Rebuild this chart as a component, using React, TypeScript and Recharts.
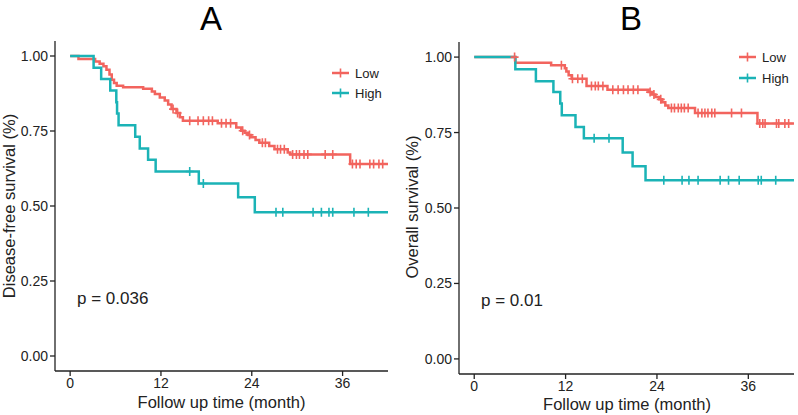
import React from "react";
import { ComposedChart, Line, Scatter, XAxis, YAxis } from "recharts";

const RED = "#F2645E";
const TEAL = "#1BB3B6";
const INK = "#222222";
const FONT = '"Liberation Sans", Arial, Helvetica, sans-serif';

const monthTicks = [0, 12, 24, 36];
const survTicks = [0, 0.25, 0.5, 0.75, 1];
const followUpEnd = 42;

// Panel A: disease-free survival, Low group
const dfsLowTimes = [0, 1.1, 3.3, 3.9, 4.4, 4.8, 5.2, 5.5, 5.8, 6.15, 7.0, 9.65, 10.8, 11.2, 11.85, 12.5, 12.95, 13.4, 14.05, 14.5, 14.9, 19.5, 21.95, 22.6, 23.05, 23.5, 23.9, 24.5, 25.0, 26.3, 27.0, 28.75, 29.1, 37.0];
const dfsLowSurv = [1, 0.99, 0.982, 0.974, 0.966, 0.954, 0.938, 0.921, 0.91, 0.901, 0.896, 0.891, 0.882, 0.873, 0.862, 0.852, 0.838, 0.823, 0.81, 0.796, 0.784, 0.776, 0.762, 0.751, 0.744, 0.737, 0.729, 0.72, 0.711, 0.7, 0.689, 0.678, 0.672, 0.64];
const dfsLowCensor = [13.6, 14.2, 15.8, 16.9, 17.6, 18.3, 18.8, 20.0, 20.6, 21.2, 22.8, 23.7, 25.4, 25.8, 27.4, 27.8, 28.3, 29.4, 29.9, 30.3, 30.9, 31.4, 33.7, 34.7, 37.3, 37.8, 38.3, 39.6, 40.1, 40.8, 41.3];

// Panel A: disease-free survival, High group
const dfsHighTimes = [0, 3.1, 4.1, 5.3, 6.1, 6.2, 6.4, 8.6, 9.2, 10.3, 11.3, 17.0, 22.2, 24.4];
const dfsHighSurv = [1, 0.961, 0.923, 0.885, 0.846, 0.808, 0.769, 0.731, 0.692, 0.654, 0.615, 0.575, 0.529, 0.479];
const dfsHighCensor = [15.8, 17.6, 27.2, 28.1, 32.1, 33.2, 34.2, 34.7, 37.5, 39.4];

// Panel B: overall survival, Low group
const osLowTimes = [0, 5.4, 10.1, 11.9, 12.1, 12.4, 12.8, 14.75, 17.5, 22.9, 23.3, 23.8, 24.3, 24.7, 25.1, 25.5, 29.0, 37.2];
const osLowSurv = [1, 0.981, 0.973, 0.963, 0.952, 0.94, 0.928, 0.904, 0.892, 0.884, 0.876, 0.868, 0.86, 0.85, 0.84, 0.831, 0.815, 0.78];
const osLowCensor = [5.3, 11.45, 12.9, 13.6, 14.2, 15.4, 15.9, 16.3, 16.9, 18.2, 18.9, 19.6, 20.2, 20.9, 21.5, 23.1, 23.6, 24.5, 25.9, 26.3, 26.8, 27.2, 27.6, 28.1, 29.4, 29.9, 30.3, 30.7, 31.2, 31.6, 33.8, 35.1, 37.5, 37.9, 38.2, 39.7, 40.0, 40.8, 41.3];

// Panel B: overall survival, High group
const osHighTimes = [0, 5.4, 8.1, 10.4, 11.3, 11.5, 13.3, 14.4, 19.5, 20.8, 22.5];
const osHighSurv = [1, 0.96, 0.92, 0.884, 0.846, 0.807, 0.768, 0.731, 0.684, 0.638, 0.592];
const osHighCensor = [15.75, 17.7, 24.9, 27.3, 28.2, 29.4, 32.3, 33.4, 34.8, 37.3, 37.7, 39.6];

type Pt = { t: number; s: number };

function steps(times: number[], surv: number[]): Pt[] {
  const pts = times.map((t, i) => ({ t, s: surv[i] }));
  pts.push({ t: followUpEnd, s: surv[surv.length - 1] });
  return pts;
}

function marks(times: number[], surv: number[], censor: number[]): Pt[] {
  return censor.map((c) => {
    let s = surv[0];
    times.forEach((t, i) => {
      if (t <= c) s = surv[i];
    });
    return { t: c, s };
  });
}

const plus = (color: string) => (props: any) => {
  const { cx, cy } = props;
  if (cx == null || cy == null) return <g />;
  return (
    <path
      d={`M${cx - 4},${cy}h8M${cx},${cy - 4.5}v9`}
      stroke={color}
      strokeWidth={1.6}
      fill="none"
    />
  );
};

// custom tick text so the font size is under our control
const XTick = (props: any) => {
  const { x, y, payload } = props;
  return (
    <text x={x} y={y + 5} textAnchor="middle" dominantBaseline="central" fontSize={14} fontFamily={FONT} fill={INK}>
      {payload.value}
    </text>
  );
};

const YTick = (props: any) => {
  const { x, y, payload } = props;
  return (
    <text x={x} y={y} textAnchor="end" dominantBaseline="central" fontSize={14} fontFamily={FONT} fill={INK}>
      {Number(payload.value).toFixed(2)}
    </text>
  );
};

interface PanelProps {
  width: number;
  margin: { top: number; right: number; bottom: number; left: number };
  low: Pt[];
  high: Pt[];
  lowCensor: Pt[];
  highCensor: Pt[];
}

function Panel({ width, margin, low, high, lowCensor, highCensor }: PanelProps) {
  const axisStyle = { stroke: INK, strokeWidth: 1.3 };
  return (
    <ComposedChart width={width} height={415} margin={margin}>
      <XAxis
        type="number"
        dataKey="t"
        domain={[-2, 42]}
        ticks={monthTicks}
        interval={0}
        allowDataOverflow
        height={30}
        tick={XTick}
        tickSize={5}
        tickMargin={2}
        axisLine={axisStyle}
        tickLine={axisStyle}
      />
      <YAxis
        type="number"
        dataKey="s"
        domain={[-0.05, 1.05]}
        ticks={survTicks}
        interval={0}
        allowDataOverflow
        width={45}
        tick={YTick}
        tickSize={5}
        tickMargin={2}
        axisLine={axisStyle}
        tickLine={axisStyle}
      />
      <Line data={low} dataKey="s" type="stepAfter" stroke={RED} strokeWidth={2.5} dot={false} isAnimationActive={false} />
      <Line data={high} dataKey="s" type="stepAfter" stroke={TEAL} strokeWidth={2.5} dot={false} isAnimationActive={false} />
      <Scatter data={lowCensor} dataKey="s" shape={plus(RED)} isAnimationActive={false} />
      <Scatter data={highCensor} dataKey="s" shape={plus(TEAL)} isAnimationActive={false} />
    </ComposedChart>
  );
}

function LegendKey({ x, y, color, label }: { x: number; y: number; color: string; label: string }) {
  return (
    <g>
      <line x1={x} y1={y} x2={x + 17} y2={y} stroke={color} strokeWidth={2.5} />
      <path d={`M${x + 4.5},${y}h8M${x + 8.5},${y - 4.5}v9`} stroke={color} strokeWidth={1.6} />
      <text x={x + 23} y={y} dominantBaseline="central" fontSize={13} fill={INK}>
        {label}
      </text>
    </g>
  );
}

export default function App() {
  return (
    <div style={{ position: "absolute", left: 0, top: 0, width: 798, height: 415, background: "#fff", fontFamily: FONT }}>
      <div style={{ position: "absolute", left: 0, top: 0 }}>
        <Panel
          width={400}
          margin={{ top: 41, right: 12, bottom: 14, left: 10 }}
          low={steps(dfsLowTimes, dfsLowSurv)}
          high={steps(dfsHighTimes, dfsHighSurv)}
          lowCensor={marks(dfsLowTimes, dfsLowSurv, dfsLowCensor)}
          highCensor={marks(dfsHighTimes, dfsHighSurv, dfsHighCensor)}
        />
      </div>
      <div style={{ position: "absolute", left: 400, top: 0 }}>
        <Panel
          width={398}
          margin={{ top: 42, right: 4, bottom: 11, left: 14 }}
          low={steps(osLowTimes, osLowSurv)}
          high={steps(osHighTimes, osHighSurv)}
          lowCensor={marks(osLowTimes, osLowSurv, osLowCensor)}
          highCensor={marks(osHighTimes, osHighSurv, osHighCensor)}
        />
      </div>
      <svg
        width={798}
        height={415}
        style={{ position: "absolute", left: 0, top: 0, pointerEvents: "none" }}
        fontFamily={FONT}
      >
        <text x={211} y={30} textAnchor="middle" fontSize={33} fill="#000">A</text>
        <text x={631} y={30} textAnchor="middle" fontSize={33} fill="#000">B</text>

        <text x={221.5} y={402} textAnchor="middle" dominantBaseline="central" fontSize={16.5} fill={INK}>
          Follow up time (month)
        </text>
        <text x={627} y={404} textAnchor="middle" dominantBaseline="central" fontSize={16.5} fill={INK}>
          Follow up time (month)
        </text>
        <text
          transform="translate(9,206) rotate(-90)"
          textAnchor="middle"
          dominantBaseline="central"
          fontSize={16.5}
          fill={INK}
        >
          Disease-free survival (%)
        </text>
        <text
          transform="translate(411.5,207) rotate(-90)"
          textAnchor="middle"
          dominantBaseline="central"
          fontSize={16.5}
          fill={INK}
        >
          Overall survival (%)
        </text>

        <text x={77} y={298} dominantBaseline="central" fontSize={17} fill={INK}>p = 0.036</text>
        <text x={481} y={300} dominantBaseline="central" fontSize={17} fill={INK}>p = 0.01</text>

        <LegendKey x={332} y={73} color={RED} label="Low" />
        <LegendKey x={332} y={93} color={TEAL} label="High" />
        <LegendKey x={739} y={57} color={RED} label="Low" />
        <LegendKey x={739} y={78} color={TEAL} label="High" />
      </svg>
    </div>
  );
}
